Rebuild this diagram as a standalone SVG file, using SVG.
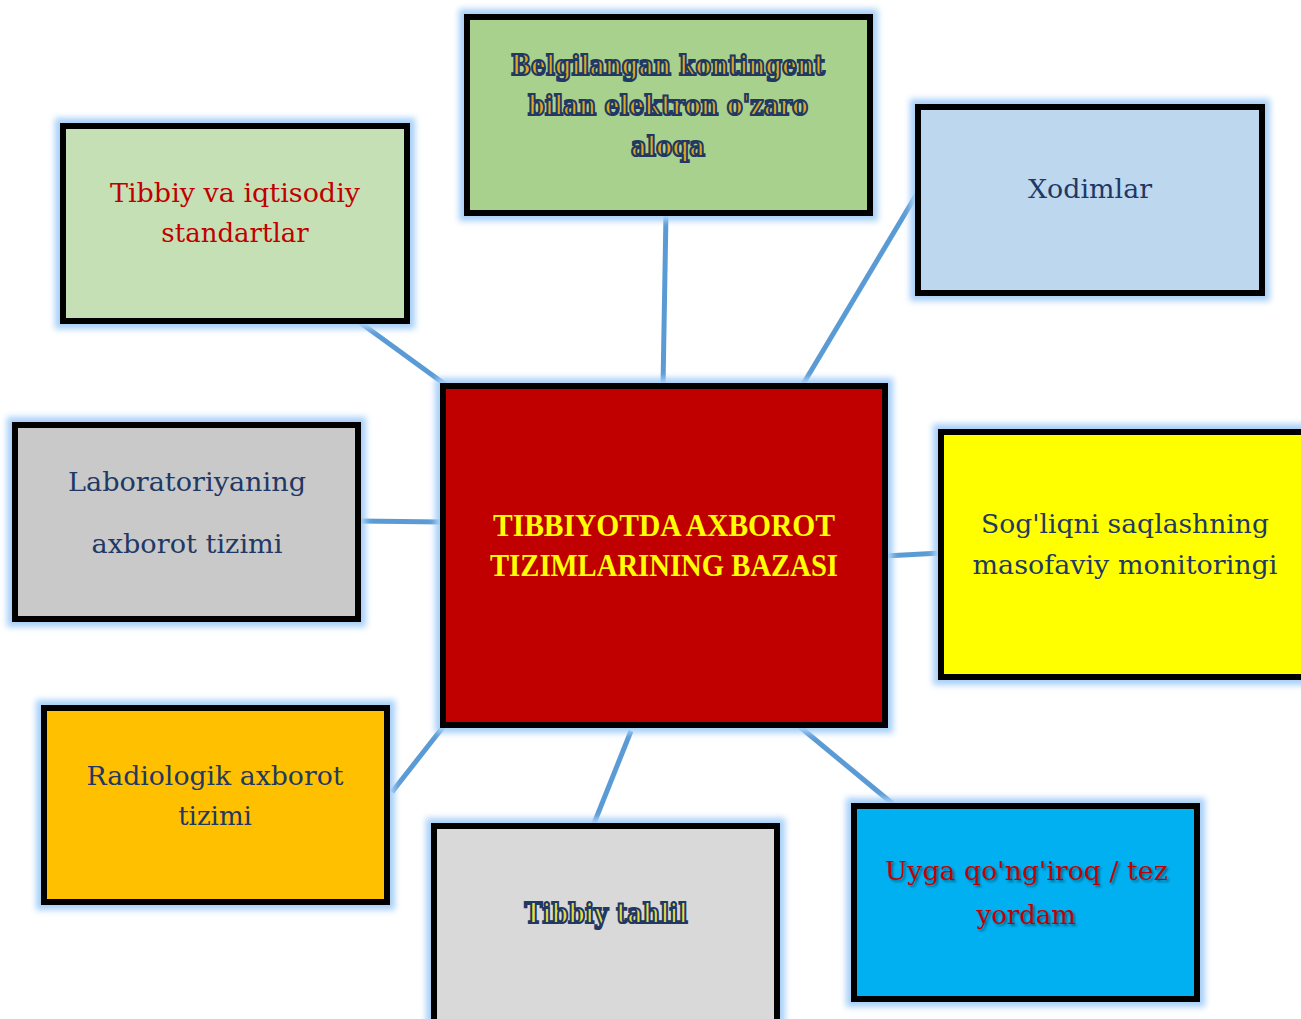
<svg xmlns="http://www.w3.org/2000/svg" width="1301" height="1019" viewBox="0 0 1301 1019">
<defs>
<filter id="glow" x="-10%" y="-10%" width="120%" height="120%">
<feMorphology in="SourceAlpha" operator="dilate" radius="5" result="d"/>
<feGaussianBlur in="d" stdDeviation="3" result="b"/>
<feFlood flood-color="#a6cff8"/>
<feComposite in2="b" operator="in" result="g"/>
<feMerge><feMergeNode in="g"/><feMergeNode in="SourceGraphic"/></feMerge>
</filter>
<filter id="shadow" x="-10%" y="-30%" width="120%" height="160%">
<feGaussianBlur in="SourceAlpha" stdDeviation="1.2" result="b"/>
<feOffset in="b" dx="2" dy="2" result="o"/>
<feFlood flood-color="#000" flood-opacity="0.4"/>
<feComposite in2="o" operator="in" result="s"/>
<feMerge><feMergeNode in="s"/><feMergeNode in="SourceGraphic"/></feMerge>
</filter>
</defs>
<style>
.box{stroke:#000;stroke-width:6;filter:url(#glow)}
.t{font-family:"DejaVu Serif","Liberation Serif",serif;font-size:26px;text-anchor:middle}
.navy{fill:#1f3864}
.red{fill:#c00000}
.ol{font-weight:bold;font-size:27px;fill:#e0a820;stroke:#1f3864;stroke-width:2.2}
.olt{font-weight:bold;font-size:27px;fill:#e8e040;stroke:#1f3864;stroke-width:2.2}
.c{font-family:"Liberation Serif","DejaVu Serif",serif;font-weight:bold;font-size:31px;fill:#ffff00;text-anchor:middle}
.conn{stroke:#5b9bd5;stroke-width:5;fill:none}
</style>
<rect width="1301" height="1019" fill="#fff"/>
<g id="connectors">
<line class="conn" x1="358" y1="321" x2="450" y2="388"/>
<line class="conn" x1="666" y1="213" x2="663" y2="387"/>
<line class="conn" x1="918" y1="192" x2="802" y2="386"/>
<line class="conn" x1="358" y1="521" x2="443" y2="522"/>
<line class="conn" x1="885" y1="556" x2="941" y2="553"/>
<line class="conn" x1="443" y1="727" x2="392" y2="792"/>
<line class="conn" x1="631" y1="731" x2="593" y2="826"/>
<line class="conn" x1="800" y1="727" x2="893" y2="804"/>
</g>
<g id="n-standartlar">
<rect class="box" x="63" y="126" width="344" height="195" fill="#c5e0b4"/>
<text class="t red" x="235" y="202" textLength="250" lengthAdjust="spacingAndGlyphs">Tibbiy va iqtisodiy</text>
<text class="t red" x="235" y="242">standartlar</text>
</g>
<g id="n-kontingent">
<rect class="box" x="467" y="17" width="403" height="196" fill="#a9d18e"/>
<text class="t ol" x="668" y="75" textLength="314" lengthAdjust="spacingAndGlyphs">Belgilangan kontingent</text>
<text class="t ol" x="668" y="115" textLength="280" lengthAdjust="spacingAndGlyphs">bilan elektron o'zaro</text>
<text class="t ol" x="668" y="156" textLength="74" lengthAdjust="spacingAndGlyphs">aloqa</text>
</g>
<g id="n-xodimlar">
<rect class="box" x="918" y="107" width="344" height="186" fill="#bdd7ee"/>
<text class="t navy" x="1090" y="198" textLength="124" lengthAdjust="spacingAndGlyphs">Xodimlar</text>
</g>
<g id="n-lab">
<rect class="box" x="15" y="425" width="343" height="194" fill="#c9c9c9"/>
<text class="t navy" x="187" y="491" textLength="238" lengthAdjust="spacingAndGlyphs">Laboratoriyaning</text>
<text class="t navy" x="187" y="553" textLength="191" lengthAdjust="spacingAndGlyphs">axborot tizimi</text>
</g>
<g id="n-center">
<rect class="box" x="443" y="386" width="442" height="339" fill="#c00000"/>
<text class="c" x="664" y="536" textLength="342" lengthAdjust="spacingAndGlyphs">TIBBIYOTDA AXBOROT</text>
<text class="c" x="664" y="576" textLength="348" lengthAdjust="spacingAndGlyphs">TIZIMLARINING BAZASI</text>
</g>
<g id="n-monitoring">
<rect class="box" x="941" y="432" width="370" height="245" fill="#ffff00"/>
<text class="t navy" x="1125" y="533" textLength="288" lengthAdjust="spacingAndGlyphs">Sog'liqni saqlashning</text>
<text class="t navy" x="1125" y="574" textLength="305" lengthAdjust="spacingAndGlyphs">masofaviy monitoringi</text>
</g>
<g id="n-radiologik">
<rect class="box" x="44" y="708" width="343" height="194" fill="#ffc000"/>
<text class="t navy" x="215" y="785" textLength="257" lengthAdjust="spacingAndGlyphs">Radiologik axborot</text>
<text class="t navy" x="215" y="825">tizimi</text>
</g>
<g id="n-tahlil">
<rect class="box" x="434" y="826" width="343" height="200" fill="#d9d9d9"/>
<text class="t olt" x="606" y="923" textLength="163" lengthAdjust="spacingAndGlyphs">Tibbiy tahlil</text>
</g>
<g id="n-uyga">
<rect class="box" x="854" y="806" width="343" height="193" fill="#00b0f0"/>
<text class="t red" x="1026" y="880" textLength="283" lengthAdjust="spacingAndGlyphs" filter="url(#shadow)">Uyga qo'ng'iroq / tez</text>
<text class="t red" x="1026" y="924" filter="url(#shadow)">yordam</text>
</g>
</svg>
